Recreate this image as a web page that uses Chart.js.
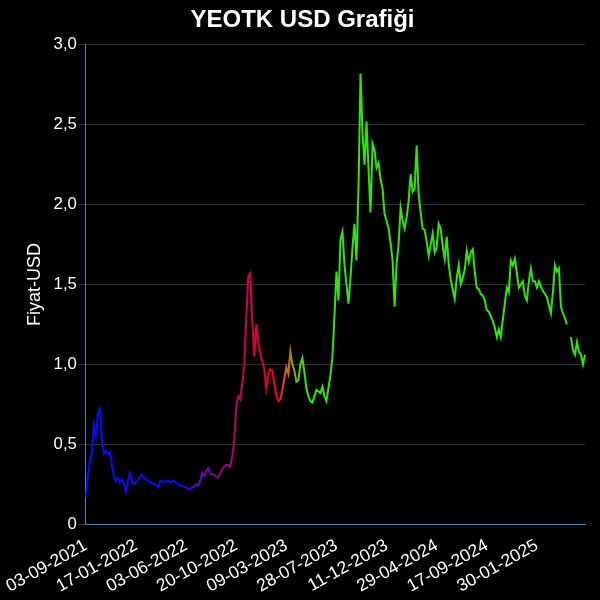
<!DOCTYPE html>
<html>
<head>
<meta charset="utf-8">
<script src="https://cdn.jsdelivr.net/npm/chart.js@4/dist/chart.umd.min.js"></script>
<style>
  html, body { margin: 0; padding: 0; background: #000; }
  #wrap { width: 600px; height: 600px; position: relative; background: #000; }
</style>
</head>
<body>
<div id="wrap"><canvas id="c"></canvas></div>
<script>
// Tick labels shown on the x axis (every 25th category)
const tickDates = ['03-09-2021','17-01-2022','03-06-2022','20-10-2022','09-03-2023',
                   '28-07-2023','11-12-2023','29-04-2024','17-09-2024','30-01-2025'];
const pointsPerTick = 25;
const extraPoints = 25;

// Price values in USD
const prices = [
  0.17,0.30,0.39,0.44,0.62,0.55,0.69,0.72,0.53,0.44,
  0.46,0.44,0.45,0.37,0.30,0.27,0.29,0.26,0.28,0.25,
  0.20,0.27,0.32,0.26,0.25,0.26,0.27,0.30,0.31,0.29,
  0.28,0.27,0.26,0.26,0.25,0.24,0.23,0.27,0.27,0.26,
  0.27,0.27,0.26,0.27,0.27,0.26,0.25,0.24,0.24,0.23,
  0.23,0.22,0.22,0.23,0.23,0.25,0.24,0.27,0.32,0.30,
  0.33,0.35,0.32,0.31,0.31,0.30,0.29,0.32,0.34,0.36,
  0.37,0.37,0.36,0.42,0.52,0.73,0.80,0.78,0.88,0.99,
  1.29,1.55,1.57,1.27,1.05,1.25,1.14,1.07,1.02,0.97,
  0.85,0.94,0.97,0.96,0.88,0.81,0.77,0.78,0.84,0.91,
  0.98,0.94,1.08,1.00,0.96,0.89,0.90,1.00,1.04,0.95,
  0.85,0.80,0.77,0.76,0.80,0.84,0.83,0.82,0.86,0.80,
  0.77,0.85,0.93,1.05,1.30,1.58,1.40,1.78,1.83,1.62,
  1.50,1.38,1.54,1.73,1.88,1.65,2.10,2.82,2.45,2.25,
  2.52,2.22,1.95,2.38,2.34,2.23,2.26,2.16,2.10,1.94,
  1.90,1.85,1.76,1.65,1.36,1.63,1.75,1.98,1.90,1.85,
  1.92,2.02,2.19,2.08,2.10,2.37,2.07,1.95,1.85,1.84,
  1.77,1.68,1.75,1.82,1.70,1.73,1.88,1.85,1.74,1.66,
  1.80,1.63,1.53,1.47,1.41,1.54,1.62,1.50,1.54,1.59,
  1.71,1.64,1.70,1.72,1.58,1.48,1.47,1.44,1.43,1.40,
  1.34,1.33,1.30,1.27,1.23,1.17,1.22,1.17,1.28,1.38,
  1.48,1.45,1.65,1.62,1.66,1.57,1.48,1.50,1.52,1.43,
  1.40,1.52,1.60,1.52,1.52,1.48,1.52,1.49,1.46,1.44,
  1.42,1.37,1.32,1.45,1.62,1.58,1.60,1.36,1.32,1.29,
  1.25,null,1.17,1.09,1.06,1.14,1.08,1.06,1.00,1.06
];

// Y axis ticks
const yMin = 0, yMax = 3, yStep = 0.5;

// Line colour stops along the time axis (fraction, colour)
const colorStops = [
  [0.00,'rgb(10,10,255)'],
  [0.19,'rgb(20,0,240)'],
  [0.23,'rgb(110,0,190)'],
  [0.27,'rgb(140,0,140)'],
  [0.30,'rgb(190,0,100)'],
  [0.33,'rgb(215,0,70)'],
  [0.36,'rgb(235,0,30)'],
  [0.385,'rgb(255,0,0)'],
  [0.40,'rgb(230,100,0)'],
  [0.41,'rgb(180,125,0)'],
  [0.425,'rgb(100,200,0)'],
  [0.44,'rgb(50,230,0)'],
  [1.00,'rgb(45,232,0)']
];

// Build date categories between the tick dates
function parseD(s){ const [d,m,y] = s.split('-').map(Number); return Date.UTC(y,m-1,d); }
function fmt(t){ const d = new Date(t); const p = n => String(n).padStart(2,'0');
  return p(d.getUTCDate())+'-'+p(d.getUTCMonth()+1)+'-'+d.getUTCFullYear(); }
const labels = [];
for (let k = 0; k < tickDates.length; k++) {
  const a = parseD(tickDates[k]);
  const b = k + 1 < tickDates.length ? parseD(tickDates[k+1])
          : a + (a - parseD(tickDates[k-1]));
  const n = k + 1 < tickDates.length ? pointsPerTick : extraPoints;
  for (let j = 0; j < n; j++) {
    if (j === 0) { labels.push(tickDates[k]); continue; }
    labels.push(fmt(a + Math.round((b - a) * j / pointsPerTick / 86400000) * 86400000));
  }
}

const FONT = "'Liberation Sans', Arial, Helvetica, sans-serif";
Chart.defaults.font.family = FONT;
Chart.defaults.color = '#fff';

let gradCache = null;
function lineGradient(context) {
  const chart = context.chart;
  const area = chart.chartArea;
  if (!area) return colorStops[0][1];
  const key = area.left + ':' + area.right;
  if (gradCache && gradCache.key === key) return gradCache.g;
  const g = chart.ctx.createLinearGradient(area.left, 0, area.right, 0);
  colorStops.forEach(([f, c]) => g.addColorStop(f, c));
  gradCache = {key, g};
  return g;
}

new Chart(document.getElementById('c'), {
  type: 'line',
  data: {
    labels: labels,
    datasets: [{
      label: 'YEOTK',
      data: prices,
      borderColor: lineGradient,
      borderWidth: 2,
      pointRadius: 0,
      tension: 0,
      spanGaps: false,
      fill: false
    }]
  },
  options: {
    responsive: true,
    maintainAspectRatio: false,
    animation: false,
    layout: { padding: { left: 20, right: 15, bottom: 0 } },
    plugins: {
      legend: { display: false },
      tooltip: { enabled: false },
      title: {
        display: true,
        text: 'YEOTK USD Grafiği',
        color: '#fff',
        font: { size: 24, weight: 'bold', family: FONT },
        padding: { top: 6, bottom: 10 }
      }
    },
    scales: {
      x: {
        grid: { display: false },
        border: { display: true, color: 'rgb(70,130,180)', width: 1 },
        ticks: {
          color: '#fff',
          padding: 3,
          font: { size: 17.5, family: FONT },
          autoSkip: true,
          maxTicksLimit: 10
        }
      },
      y: {
        min: yMin, max: yMax,
        grid: { color: 'rgb(48,48,48)', drawTicks: true, tickLength: 8 },
        border: { display: true, color: 'rgb(70,130,180)', width: 1 },
        title: { display: true, text: 'Fiyat-USD', color: '#fff',
                 font: { size: 18, family: FONT }, padding: { top: 4, bottom: 7 } },
        ticks: {
          stepSize: yStep,
          padding: 1,
          color: '#fff',
          font: { size: 16.8, family: FONT },
          callback: v => v === 0 ? '0' : Number(v).toFixed(1).replace('.', ',')
        }
      }
    }
  }
});
</script>
</body>
</html>
